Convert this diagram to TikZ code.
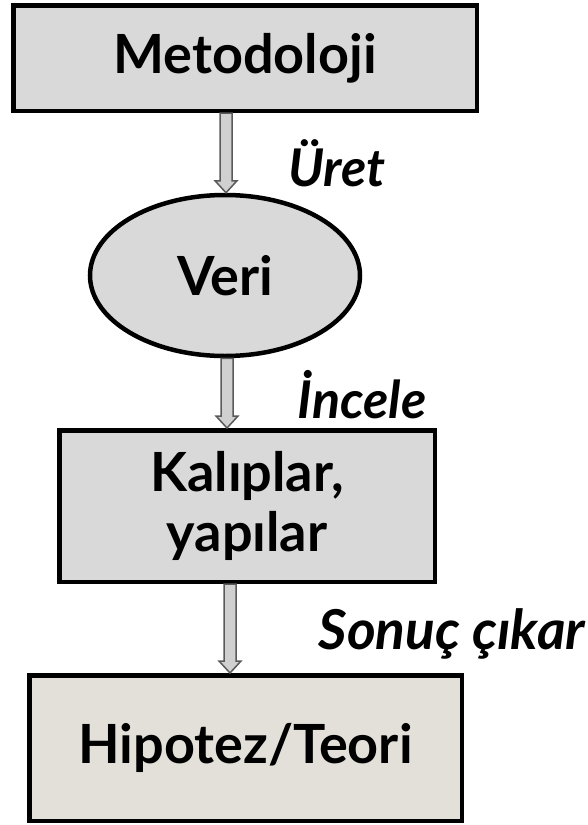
\documentclass[tikz,border=0pt]{standalone}
\usepackage{fontspec}
\setmainfont{Lato}
\usetikzlibrary{shapes.geometric,calc}
\definecolor{boxgray}{HTML}{D9D9D9}
\definecolor{boxbeige}{HTML}{E2E0D9}
\definecolor{arrowfill}{HTML}{D0D0D0}
\definecolor{arrowline}{HTML}{5A5A5A}
\tikzset{
  box/.style={draw=black, line width=4.5pt, fill=boxgray, align=center,
    font=\fontsize{54}{60}\selectfont\bfseries, inner sep=0pt},
  lbl/.style={font=\fontsize{52}{56}\selectfont\bfseries\itshape, inner sep=0pt},
  blockarrow/.style={draw=arrowline, line width=1.5pt, fill=arrowfill, line join=miter}
}
\newcommand{\blockarr}[3]{%
  \path let \p1=(#1), \p2=(#2) in
    [blockarrow] (#3-6pt,\y1) -- (#3-6pt,\y2+12pt) -- (#3-11pt,\y2+12pt) --
    (#3,\y2) -- (#3+11pt,\y2+12pt) -- (#3+6pt,\y2+12pt) -- (#3+6pt,\y1) -- cycle;}
\begin{document}
\begin{tikzpicture}[x=1pt,y=-1pt]
\useasboundingbox (0,0) rectangle (588,825);
\node[box, minimum width=463.5pt, minimum height=105.5pt] (met) at (245,58) {\raisebox{-3pt}{Metodoloji}};
\node[box, ellipse, minimum width=270pt, minimum height=161pt] (veri) at (225,275.5) {Veri};
\node[box, minimum width=375.5pt, minimum height=151.5pt] (kal) at (247,506) {Kalıplar,\\yapılar};
\node[box, fill=boxbeige, minimum width=432.5pt, minimum height=145.5pt] (hip) at (245.5,748) {Hipotez/Teori};
\blockarr{met.south}{veri.north}{226pt}
\blockarr{veri.south}{kal.north}{227pt}
\blockarr{kal.south}{hip.north}{230pt}
\node[lbl] (l1) at (337,163) {Üret};
\node[lbl] (l2) at (362,395) {İncele};
\node[lbl, font=\fontsize{55}{58}\selectfont\bfseries\itshape] (l3) at (452,634) {Sonuç çıkar};
\end{tikzpicture}
\end{document}
